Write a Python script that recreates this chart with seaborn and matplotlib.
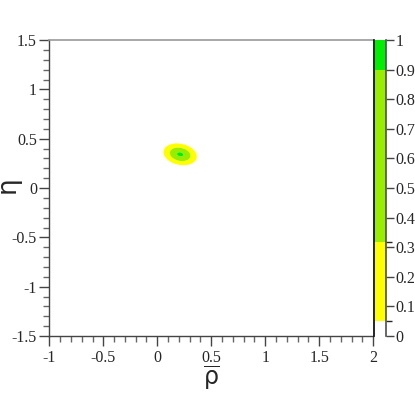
import numpy as np
import matplotlib
matplotlib.use("Agg")
import matplotlib.pyplot as plt
from matplotlib.colors import ListedColormap, BoundaryNorm
from matplotlib.ticker import MultipleLocator
import matplotlib.colorbar as mcolorbar
import seaborn as sns

# ---- data ----
rho_center = [0.212]
eta_center = [0.342]
rho_sigma = [0.063]
eta_sigma = [0.045]
rho_eta_corr = [-0.2]
cl_levels = [0.0, 0.05, 0.3173, 0.9, 1.0]
cl_colors = ["#ffffff", "#ffff00", "#99ee00", "#00ee00"]
x_ticks = [-1, -0.5, 0, 0.5, 1, 1.5, 2]
y_ticks = [-1.5, -1, -0.5, 0, 0.5, 1, 1.5]
cbar_ticks = [0, 0.1, 0.2, 0.3, 0.4, 0.5, 0.6, 0.7, 0.8, 0.9, 1]

sns.set_theme(style="ticks")
plt.rcParams["font.family"] = ["Liberation Serif", "DejaVu Serif"]
plt.rcParams["mathtext.fontset"] = "dejavusans"

fig = plt.figure(figsize=(4.15, 4.01), dpi=100)
fig.patch.set_facecolor("white")
ax = fig.add_axes([0.119, 0.162, 0.780, 0.738])
cax = fig.add_axes([0.902, 0.162, 0.027, 0.738])

# CL surface (p-value of a correlated 2D gaussian)
rho = np.linspace(-1, 2, 601)
eta = np.linspace(-1.5, 1.5, 601)
R, E = np.meshgrid(rho, eta)
dx = (R - rho_center[0]) / rho_sigma[0]
dy = (E - eta_center[0]) / eta_sigma[0]
c = rho_eta_corr[0]
chi2 = (dx**2 - 2 * c * dx * dy + dy**2) / (1 - c**2)
pval = np.exp(-chi2 / 2)

cmap = ListedColormap(cl_colors)
norm = BoundaryNorm(cl_levels, cmap.N)
ax.contourf(R, E, pval, levels=cl_levels[1:], colors=cl_colors[1:], antialiased=True)

ax.set_xlim(-1, 2)
ax.set_ylim(-1.5, 1.5)
ax.set_xticks(x_ticks)
ax.set_yticks(y_ticks)
ax.set_xticklabels([f"{v:g}" for v in x_ticks])
ax.set_yticklabels([f"{v:g}" for v in y_ticks])
ax.xaxis.set_minor_locator(MultipleLocator(0.1))
ax.yaxis.set_minor_locator(MultipleLocator(0.1))
ax.tick_params(which="major", direction="out", length=7, width=1, color="#444444",
               labelsize=11.5, pad=2)
ax.tick_params(which="minor", direction="out", length=4, width=1, color="#666666")
ax.tick_params(axis="x", pad=3)
for side in ["left", "bottom"]:
    ax.spines[side].set_color("#444444")
    ax.spines[side].set_linewidth(1.0)
ax.spines["top"].set_color("#999999")
ax.spines["top"].set_linewidth(1.2)
ax.spines["right"].set_visible(False)
ax.set_facecolor("white")

ax.set_xlabel(r"$\overline{\mathrm{\rho}}$", fontsize=17)
ax.xaxis.set_label_coords(0.5, -0.095)
ax.set_ylabel(r"$\mathrm{\eta}$", fontsize=19)
ax.yaxis.set_label_coords(-0.075, 0.5)

cb = mcolorbar.ColorbarBase(cax, cmap=cmap, norm=norm, boundaries=cl_levels,
                            spacing="proportional", ticks=cbar_ticks)
cb.outline.set_visible(False)
cax.set_yticklabels([f"{v:g}" for v in cbar_ticks])
cax.tick_params(axis="y", direction="out", length=6, width=1, color="#444444",
                labelsize=11.5, pad=1, right=True, left=False)
cax.spines["left"].set_visible(True)
cax.spines["left"].set_color("black")
cax.spines["left"].set_linewidth(1.2)
cax.spines["right"].set_visible(True)
cax.spines["right"].set_color("#555555")

fig.savefig("out.png", dpi=100, facecolor="white")
